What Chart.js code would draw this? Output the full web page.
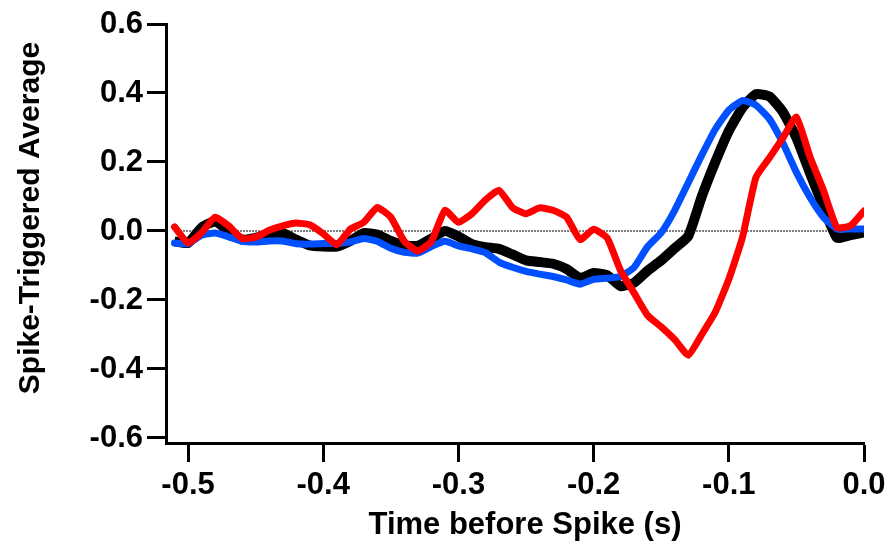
<!DOCTYPE html>
<html><head><meta charset="utf-8">
<script src="https://cdn.jsdelivr.net/npm/chart.js@4"></script>
<style>html,body{margin:0;padding:0;background:#fff}#wrap{width:889px;height:545px;position:relative}</style>
</head><body><div id="wrap"><canvas id="c" width="889" height="545"></canvas></div>
<script>
const times = [-0.51,-0.50,-0.49,-0.48,-0.47,-0.46,-0.45,-0.44,-0.43,-0.42,-0.41,-0.40,-0.39,-0.38,-0.37,-0.36,-0.35,-0.34,-0.33,-0.32,-0.31,-0.30,-0.29,-0.28,-0.27,-0.26,-0.25,-0.24,-0.23,-0.22,-0.21,-0.20,-0.19,-0.18,-0.17,-0.16,-0.15,-0.14,-0.13,-0.12,-0.11,-0.10,-0.09,-0.08,-0.07,-0.06,-0.05,-0.04,-0.03,-0.02,-0.01,0.00];
const blackSTA = [-0.030,-0.035,0.010,0.028,0.000,-0.025,-0.020,-0.008,-0.006,-0.025,-0.042,-0.045,-0.045,-0.029,-0.006,-0.010,-0.029,-0.042,-0.043,-0.022,0.000,-0.016,-0.038,-0.047,-0.052,-0.068,-0.085,-0.090,-0.095,-0.110,-0.136,-0.122,-0.128,-0.160,-0.150,-0.115,-0.085,-0.050,-0.015,0.100,0.200,0.290,0.357,0.397,0.390,0.345,0.270,0.168,0.070,-0.020,-0.012,-0.004];
const blueSTA = [-0.035,-0.037,-0.012,-0.006,-0.017,-0.030,-0.032,-0.029,-0.029,-0.037,-0.038,-0.036,-0.036,-0.032,-0.022,-0.030,-0.050,-0.062,-0.064,-0.045,-0.030,-0.043,-0.052,-0.063,-0.090,-0.105,-0.117,-0.125,-0.132,-0.142,-0.154,-0.140,-0.137,-0.132,-0.105,-0.045,-0.005,0.060,0.140,0.220,0.295,0.350,0.378,0.365,0.325,0.255,0.170,0.098,0.040,0.006,0.006,0.006];
const redSTA = [0.012,-0.035,-0.005,0.040,0.015,-0.022,-0.018,0.002,0.015,0.023,0.018,-0.008,-0.040,0.005,0.025,0.068,0.040,-0.030,-0.058,-0.030,0.060,0.025,0.050,0.090,0.118,0.068,0.050,0.067,0.060,0.040,-0.025,0.005,-0.020,-0.115,-0.180,-0.245,-0.278,-0.315,-0.360,-0.300,-0.235,-0.140,-0.020,0.155,0.212,0.270,0.330,0.215,0.118,0.010,0.015,0.058];
const xTicks = [-0.5,-0.4,-0.3,-0.2,-0.1,0.0];
const yTicks = [0.6,0.4,0.2,0.0,-0.2,-0.4,-0.6];
const xTitle = 'Time before Spike (s)';
const yTitle = 'Spike-Triggered Average';

const toXY = arr => arr.map((v,i)=>({x:times[i], y:v}));
const FONT = '"Liberation Sans", Arial, Helvetica, sans-serif';

const titlePlugin = {
  id:'axisTitles',
  afterDraw(chart){
    const ctx = chart.ctx; const a = chart.chartArea;
    ctx.save();
    ctx.fillStyle = '#000';
    ctx.textAlign = 'center'; ctx.textBaseline = 'middle';
    ctx.font = 'bold 31px ' + FONT;
    ctx.fillText(xTitle, a.left + 359, 525);
    ctx.font = 'bold 30px ' + FONT;
    ctx.translate(31, a.top + 194);
    ctx.rotate(-Math.PI/2);
    ctx.fillText(yTitle, 0, 0);
    ctx.restore();
  }
};

new Chart(document.getElementById('c'), {
  type:'line',
  data:{
    datasets:[
      {label:'Red', data:toXY(redSTA), borderColor:'#ff0000', borderWidth:7, pointRadius:0, tension:0.15, order:1, borderCapStyle:'round', borderJoinStyle:'round'},
      {label:'Blue', data:toXY(blueSTA), borderColor:'#0050ff', borderWidth:7, pointRadius:0, tension:0.15, order:2, borderCapStyle:'round', borderJoinStyle:'round'},
      {label:'Black', data:toXY(blackSTA), borderColor:'#000000', borderWidth:10, pointRadius:0, tension:0.15, order:3, borderCapStyle:'butt', borderJoinStyle:'round'},
      {label:'Zero', data:[{x:times[0],y:0},{x:0,y:0}], borderColor:'#000', borderWidth:2, borderDash:[1,2], pointRadius:0, order:4}
    ]
  },
  options:{
    responsive:false, animation:false, devicePixelRatio:1,
    layout:{padding:{left:0, top:24, right:25, bottom:0}},
    plugins:{legend:{display:false}, tooltip:{enabled:false}},
    scales:{
      x:{type:'linear', min:-0.5163, max:0,
        afterBuildTicks:s=>{s.ticks = xTicks.map(v=>({value:v}));},
        afterFit:s=>{s.height=102; s.paddingLeft=0; s.paddingRight=0;},
        ticks:{callback:v=>Number(v).toFixed(1), color:'#000', font:{family:FONT, size:31, weight:'bold'}, padding:5, maxRotation:0, autoSkip:false},
        grid:{drawOnChartArea:false, drawTicks:true, tickLength:19, tickWidth:3, tickColor:'#000'},
        border:{display:true, width:3, color:'#000'}
      },
      y:{type:'linear', min:-0.6145, max:0.6,
        afterBuildTicks:s=>{s.ticks = yTicks.map(v=>({value:v}));},
        afterFit:s=>{s.width=166; s.paddingTop=0; s.paddingBottom=0;},
        ticks:{callback:v=>Number(v).toFixed(1), color:'#000', font:{family:FONT, size:31, weight:'bold'}, padding:4},
        grid:{drawOnChartArea:false, drawTicks:true, tickLength:19, tickWidth:3, tickColor:'#000'},
        border:{display:true, width:3, color:'#000'}
      }
    }
  },
  plugins:[titlePlugin]
});
</script></body></html>
